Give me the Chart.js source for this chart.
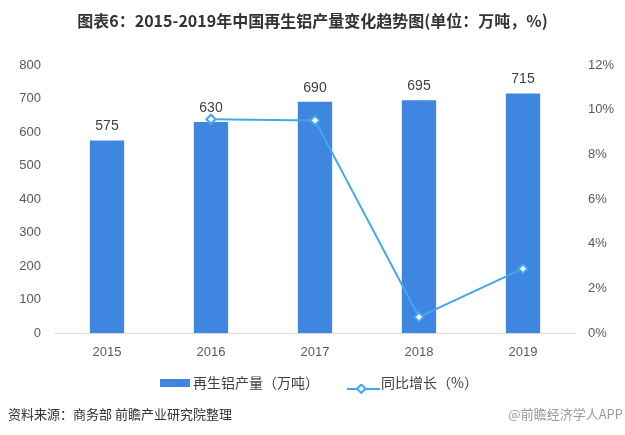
<!DOCTYPE html>
<html>
<head>
<meta charset="utf-8">
<script src="https://cdn.jsdelivr.net/npm/chart.js@4/dist/chart.umd.min.js"></script>
<style>
  html, body { margin: 0; padding: 0; background: #fff; }
  #wrap { position: relative; width: 625px; height: 435px; overflow: hidden; }
  #chart { position: absolute; left: 0; top: 0; }
  .title {
    position: absolute; left: 0; width: 625px; top: 8px; text-align: center;
    font: bold 16px "Noto Sans CJK SC", sans-serif; color: #333;
  }
  .legend { position: absolute; top: 372px; font: 14px "Noto Sans CJK SC", sans-serif; color: #404040; }
  .source { position: absolute; left: 8px; top: 404px; font: 13px "Noto Sans CJK SC", sans-serif; color: #333; }
  .app { position: absolute; right: 2px; top: 404px; font: 13px "Noto Sans CJK SC", sans-serif; color: #999; }
</style>
</head>
<body>
<div id="wrap">
  <canvas id="chart" width="625" height="435" style="width:625px;height:435px"></canvas>
  <div class="title">图表6：2015-2019年中国再生铝产量变化趋势图(单位：万吨，%)</div>
  <div class="legend" style="left:160px;">
    <span style="display:inline-block;width:30px;height:8px;background:#3F86E0;vertical-align:middle;margin-right:3px;position:relative;top:-1px;"></span>再生铝产量（万吨）
  </div>
  <div class="legend" style="left:347px;">
    <span style="display:inline-block;width:33px;height:10px;vertical-align:middle;margin-right:1px;position:relative;top:-1px;">
      <svg width="33" height="10"><line x1="0" y1="5" x2="33" y2="5" stroke="#41A8F0" stroke-width="2"/><rect x="12" y="1" width="6" height="6" fill="#fff" stroke="#41A8F0" stroke-width="2" transform="rotate(45 15 4) translate(0 1)"/></svg>
    </span>同比增长（%）
  </div>
  <div class="source">资料来源：商务部 前瞻产业研究院整理</div>
  <div class="app">@前瞻经济学人APP</div>
</div>
<script>
// 数据
const years = ['2015', '2016', '2017', '2018', '2019'];
const output = [575, 630, 690, 695, 715];          // 再生铝产量（万吨）
const growth = [null, 9.57, 9.52, 0.72, 2.88];     // 同比增长（%）
const leftTicks = [0, 100, 200, 300, 400, 500, 600, 700, 800];
const rightTicks = [0, 2, 4, 6, 8, 10, 12];

const numFont = { family: '"Liberation Sans", Arial, sans-serif', size: 13 };

// 柱顶数值标签
const barLabels = {
  id: 'barLabels',
  afterDatasetsDraw(chart) {
    const ctx = chart.ctx;
    const meta = chart.getDatasetMeta(1);
    ctx.save();
    ctx.font = '14px "Liberation Sans", Arial, sans-serif';
    ctx.fillStyle = '#404040';
    ctx.textAlign = 'center';
    ctx.textBaseline = 'bottom';
    meta.data.forEach((bar, i) => {
      ctx.fillText(output[i], bar.x, bar.y - 7);
    });
    ctx.restore();
  }
};

new Chart(document.getElementById('chart'), {
  data: {
    labels: years,
    datasets: [
      {
        type: 'line',
        label: '同比增长（%）',
        data: growth,
        yAxisID: 'y1',
        borderColor: '#41A8F0',
        borderWidth: 2,
        pointStyle: 'rectRot',
        pointRadius: 4.5,
        pointBackgroundColor: '#fff',
        pointBorderColor: '#41A8F0',
        pointBorderWidth: 2,
        tension: 0,
        order: 0
      },
      {
        type: 'bar',
        label: '再生铝产量（万吨）',
        data: output,
        yAxisID: 'y',
        backgroundColor: '#3F86E0',
        categoryPercentage: 1,
        barPercentage: 0.33,
        order: 1
      }
    ]
  },
  options: {
    responsive: false,
    animation: false,
    layout: { padding: { top: 65, bottom: 72, left: 0, right: 0 } },
    plugins: {
      legend: { display: false },
      tooltip: { enabled: false }
    },
    scales: {
      x: {
        grid: { display: false, drawTicks: false },
        border: { display: true, color: '#d9d9d9', width: 1 },
        ticks: { color: '#595959', font: numFont, padding: 12 },
        afterFit: (s) => { s.height = 30; }
      },
      y: {
        position: 'left',
        min: 0, max: 800,
        afterBuildTicks: (s) => { s.ticks = leftTicks.map(v => ({ value: v })); },
        grid: { display: false, drawTicks: false },
        border: { display: false },
        ticks: { color: '#595959', font: numFont, padding: 14 },
        afterFit: (s) => { s.width = 55; }
      },
      y1: {
        position: 'right',
        min: 0, max: 12,
        afterBuildTicks: (s) => { s.ticks = rightTicks.map(v => ({ value: v })); },
        grid: { display: false, drawTicks: false },
        border: { display: false },
        ticks: { color: '#595959', font: numFont, padding: 13, callback: (v) => v + '%' },
        afterFit: (s) => { s.width = 50; }
      }
    }
  },
  plugins: [barLabels]
});
</script>
</body>
</html>
